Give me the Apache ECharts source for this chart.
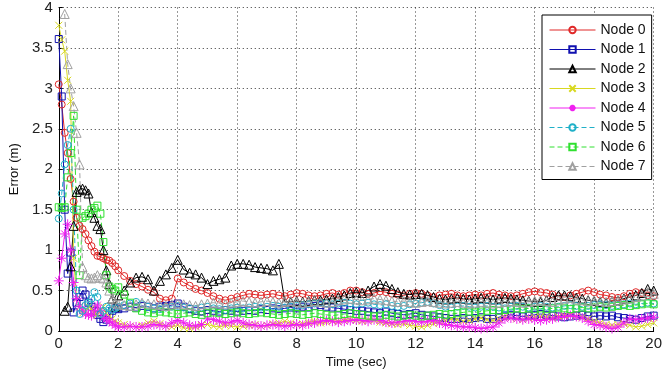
<!DOCTYPE html>
<html>
<head>
<meta charset="utf-8">
<script src="https://cdn.jsdelivr.net/npm/echarts@6/dist/echarts.min.js"></script>
<style>
  html, body { margin: 0; padding: 0; background: #fff; }
  #chart { width: 665px; height: 378px; }
</style>
</head>
<body>
<div id="chart"></div>
<script>
// Sampling grid: 0.1 s steps for the first two seconds, then 0.2 s steps to 20 s
const timeSec = [];
for (let i = 0; i <= 20; i++) timeSec.push(+(i * 0.1).toFixed(1));
for (let i = 1; i <= 90; i++) timeSec.push(+(2 + i * 0.2).toFixed(1));

const xTicks = [0, 2, 4, 6, 8, 10, 12, 14, 16, 18, 20];
const yTicks = [0, 0.5, 1, 1.5, 2, 2.5, 3, 3.5, 4];
const nodeNames = ['Node 0', 'Node 1', 'Node 2', 'Node 3', 'Node 4', 'Node 5', 'Node 6', 'Node 7'];

// Localisation error per node (m)
const node0 = [
  3.05, 2.8, 2.45, 2.2, 1.88, 1.6, 1.4, 1.3, 1.26, 1.2, 1.12, 1.05, 0.98, 0.93, 0.92, 0.9, 0.88, 0.87, 0.84, 0.8, 0.75,
  0.68, 0.62, 0.58, 0.55, 0.51, 0.48, 0.40, 0.38, 0.40, 0.65,
  0.60, 0.56, 0.52, 0.50, 0.47, 0.43, 0.40, 0.38, 0.40, 0.42,
  0.44, 0.46, 0.45, 0.44, 0.45, 0.46, 0.44, 0.43, 0.45, 0.47,
  0.46, 0.44, 0.43, 0.44, 0.46, 0.47, 0.45, 0.47, 0.50, 0.50,
  0.48, 0.46, 0.47, 0.49, 0.48, 0.46, 0.45, 0.44, 0.46, 0.47,
  0.46, 0.44, 0.42, 0.44, 0.45, 0.46, 0.44, 0.43, 0.44, 0.45,
  0.44, 0.46, 0.47, 0.45, 0.44, 0.43, 0.44, 0.46, 0.48, 0.49,
  0.48, 0.47, 0.45, 0.43, 0.42, 0.44, 0.46, 0.48, 0.50, 0.48,
  0.45, 0.44, 0.42, 0.41, 0.43, 0.46, 0.48, 0.47, 0.44, 0.43
];
const node1 = [
  3.61, 2.9, 1.5, 0.71, 0.97, 0.23, 0.35, 0.42, 0.5, 0.45, 0.35, 0.3, 0.25, 0.2, 0.15, 0.11, 0.14, 0.2, 0.25, 0.28, 0.27,
  0.28, 0.30, 0.29, 0.31, 0.30, 0.28, 0.30, 0.31, 0.32, 0.34,
  0.30, 0.27, 0.25, 0.24, 0.26, 0.25, 0.24, 0.26, 0.25, 0.24,
  0.25, 0.26, 0.25, 0.27, 0.26, 0.28, 0.27, 0.28, 0.29, 0.28,
  0.30, 0.29, 0.31, 0.32, 0.30, 0.29, 0.28, 0.27, 0.26, 0.25,
  0.25, 0.24, 0.23, 0.22, 0.24, 0.22, 0.21, 0.20, 0.21, 0.22,
  0.20, 0.19, 0.18, 0.17, 0.16, 0.15, 0.15, 0.16, 0.15, 0.16,
  0.17, 0.15, 0.15, 0.17, 0.19, 0.20, 0.19, 0.18, 0.19, 0.20,
  0.21, 0.20, 0.19, 0.18, 0.17, 0.18, 0.19, 0.20, 0.19, 0.18,
  0.19, 0.18, 0.19, 0.17, 0.16, 0.15, 0.14, 0.16, 0.18, 0.19
];
const node2 = [
  null, null, 0.25, 0.3, 0.8, 1.3, 1.72, 1.75, 1.76, 1.74, 1.7, 1.47, 1.4, 1.3, 1.26, 1.0, 0.75, 0.58, 0.4, 0.3, 0.44,
  0.50, 0.60, 0.66, 0.67, 0.64, 0.50, 0.62, 0.70, 0.78, 0.88,
  0.76, 0.72, 0.70, 0.66, 0.58, 0.62, 0.64, 0.66, 0.81, 0.83,
  0.83, 0.82, 0.79, 0.78, 0.77, 0.75, 0.83, 0.36, 0.36, 0.37,
  0.36, 0.37, 0.38, 0.38, 0.39, 0.40, 0.42, 0.44, 0.47, 0.48,
  0.47, 0.50, 0.55, 0.58, 0.56, 0.52, 0.48, 0.46, 0.45, 0.46,
  0.46, 0.44, 0.42, 0.40, 0.39, 0.40, 0.41, 0.40, 0.39, 0.40,
  0.41, 0.40, 0.39, 0.40, 0.41, 0.40, 0.39, 0.38, 0.37, 0.36,
  0.36, 0.38, 0.42, 0.44, 0.44, 0.43, 0.41, 0.40, 0.38, 0.37,
  0.36, 0.35, 0.37, 0.38, 0.40, 0.42, 0.44, 0.47, 0.52, 0.50
];
const node3 = [
  3.78, 3.6, 3.46, 3.1, 2.84, 0.9, 0.4, 0.3, 0.22, 0.25, 0.3, 0.28, 0.22, 0.2, 0.25, 0.3, 0.22, 0.18, 0.15, 0.12, 0.1,
  0.08, 0.06, 0.05, 0.07, 0.10, 0.12, 0.09, 0.06, 0.05, 0.07,
  0.04, 0.03, 0.05, 0.07, 0.08, 0.06, 0.05, 0.07, 0.06, 0.05,
  0.06, 0.07, 0.08, 0.06, 0.07, 0.09, 0.10, 0.12, 0.10, 0.08,
  0.09, 0.11, 0.12, 0.10, 0.11, 0.13, 0.12, 0.14, 0.15, 0.13,
  0.12, 0.14, 0.13, 0.11, 0.10, 0.09, 0.08, 0.09, 0.07, 0.06,
  0.05, 0.07, 0.09, 0.11, 0.13, 0.15, 0.14, 0.12, 0.13, 0.15,
  0.16, 0.14, 0.13, 0.15, 0.17, 0.16, 0.15, 0.14, 0.16, 0.17,
  0.18, 0.17, 0.16, 0.18, 0.19, 0.20, 0.18, 0.17, 0.15, 0.12,
  0.10, 0.08, 0.07, 0.08, 0.09, 0.07, 0.05, 0.06, 0.08, 0.10
];
const node4 = [
  0.62, 0.9, 1.2, 1.32, 1.0, 0.6, 0.4, 0.3, 0.25, 0.21, 0.2, 0.19, 0.25, 0.32, 0.25, 0.17, 0.15, 0.12, 0.1, 0.07, 0.05,
  0.05, 0.06, 0.05, 0.05, 0.06, 0.08, 0.07, 0.06, 0.10, 0.13,
  0.10, 0.07, 0.06, 0.08, 0.15, 0.14, 0.12, 0.10, 0.11, 0.13,
  0.10, 0.08, 0.07, 0.06, 0.07, 0.08, 0.07, 0.06, 0.07, 0.08,
  0.07, 0.09, 0.10, 0.12, 0.13, 0.12, 0.11, 0.12, 0.13, 0.14,
  0.13, 0.12, 0.14, 0.13, 0.11, 0.10, 0.11, 0.12, 0.13, 0.12,
  0.11, 0.12, 0.13, 0.10, 0.08, 0.07, 0.06, 0.05, 0.05, 0.04,
  0.03, 0.04, 0.05, 0.10, 0.15, 0.16, 0.15, 0.14, 0.15, 0.14,
  0.13, 0.14, 0.15, 0.17, 0.18, 0.19, 0.18, 0.16, 0.12, 0.08,
  0.07, 0.05, 0.03, 0.05, 0.10, 0.15, 0.14, 0.15, 0.16, 0.17
];
const node5 = [
  1.39, 1.7, 2.06, 2.3, 2.5, 1.5, 0.5, 0.21, 0.25, 0.32, 0.35, 0.4, 0.48, 0.42, 0.21, 0.25, 0.3, 0.28, 0.26, 0.28, 0.3,
  0.32, 0.34, 0.36, 0.33, 0.30, 0.28, 0.27, 0.29, 0.30, 0.31,
  0.29, 0.28, 0.27, 0.29, 0.30, 0.28, 0.27, 0.26, 0.28, 0.29,
  0.28, 0.29, 0.30, 0.29, 0.30, 0.31, 0.30, 0.29, 0.30, 0.31,
  0.32, 0.33, 0.34, 0.35, 0.34, 0.33, 0.34, 0.35, 0.34, 0.33,
  0.34, 0.35, 0.33, 0.32, 0.33, 0.31, 0.30, 0.31, 0.33, 0.34,
  0.35, 0.36, 0.34, 0.32, 0.30, 0.29, 0.30, 0.31, 0.30, 0.29,
  0.30, 0.31, 0.30, 0.29, 0.28, 0.30, 0.31, 0.30, 0.29, 0.30,
  0.31, 0.30, 0.29, 0.30, 0.31, 0.32, 0.31, 0.30, 0.31, 0.32,
  0.33, 0.32, 0.31, 0.32, 0.33, 0.34, 0.33, 0.34, 0.35, 0.34
];
const node6 = [
  1.53, 1.52, 1.53, 1.9, 2.2, 2.66, 1.5, 0.69, 1.4, 1.42, 1.45, 1.5, 1.52, 1.55, 1.45, 1.1, 0.69, 0.55, 0.52, 0.5, 0.54,
  0.45, 0.35, 0.28, 0.25, 0.23, 0.22, 0.24, 0.23, 0.22, 0.21,
  0.22, 0.23, 0.21, 0.20, 0.22, 0.23, 0.22, 0.21, 0.22, 0.23,
  0.22, 0.21, 0.22, 0.23, 0.22, 0.21, 0.20, 0.21, 0.22, 0.21,
  0.20, 0.21, 0.22, 0.21, 0.20, 0.19, 0.20, 0.21, 0.22, 0.21,
  0.20, 0.19, 0.18, 0.19, 0.20, 0.19, 0.18, 0.19, 0.20, 0.19,
  0.18, 0.19, 0.20, 0.21, 0.20, 0.21, 0.22, 0.23, 0.24, 0.23,
  0.24, 0.25, 0.26, 0.25, 0.26, 0.27, 0.28, 0.27, 0.28, 0.27,
  0.28, 0.27, 0.28, 0.29, 0.28, 0.27, 0.28, 0.29, 0.28, 0.29,
  0.30, 0.29, 0.30, 0.31, 0.32, 0.31, 0.32, 0.33, 0.34, 0.33
];
const node7 = [
  null, null, 3.92, 3.3, 3.0, 2.78, 2.45, 2.06, 0.79, 0.69, 0.66, 0.65, 0.66, 0.69, 0.66, 0.65, 0.6, 0.5, 0.4, 0.35, 0.33,
  0.32, 0.31, 0.33, 0.35, 0.34, 0.33, 0.32, 0.31, 0.33, 0.34,
  0.33, 0.32, 0.31, 0.33, 0.34, 0.35, 0.34, 0.33, 0.35, 0.36,
  0.37, 0.36, 0.35, 0.36, 0.37, 0.36, 0.35, 0.36, 0.37, 0.36,
  0.35, 0.36, 0.37, 0.36, 0.35, 0.36, 0.38, 0.39, 0.40, 0.39,
  0.38, 0.39, 0.40, 0.39, 0.38, 0.37, 0.36, 0.37, 0.36, 0.35,
  0.36, 0.37, 0.36, 0.35, 0.34, 0.35, 0.36, 0.35, 0.34, 0.35,
  0.36, 0.35, 0.34, 0.35, 0.36, 0.37, 0.36, 0.35, 0.36, 0.37,
  0.38, 0.37, 0.36, 0.38, 0.40, 0.41, 0.39, 0.38, 0.37, 0.38,
  0.37, 0.36, 0.37, 0.38, 0.39, 0.40, 0.42, 0.44, 0.48, 0.46
];

const nodeValues = [node0, node1, node2, node3, node4, node5, node6, node7];

// Line colour, marker and dash style for each node
const styles = [
  { color: '#e02828', symbol: 'circle', size: 7, type: 'solid' },
  { color: '#1010b0', symbol: 'rect', size: 7, type: 'solid' },
  { color: '#000000', symbol: 'triangle', size: 9, type: 'solid' },
  { color: '#d8d820', symbol: 'path://M0,0L10,10M10,0L0,10', size: 7, type: 'solid' },
  { color: '#f020f0', symbol: 'path://M5,0L5,10M0,5L10,5M1.5,1.5L8.5,8.5M8.5,1.5L1.5,8.5', size: 10, type: 'solid' },
  { color: '#20b0c8', symbol: 'circle', size: 7, type: [5, 3] },
  { color: '#30e030', symbol: 'rect', size: 7, type: [5, 3] },
  { color: '#a0a0a0', symbol: 'triangle', size: 9, type: [5, 3] }
];

const series = nodeNames.map((name, k) => ({
  name: name,
  type: 'line',
  data: timeSec.map((t, i) => [t, nodeValues[k][i]]),
  symbol: styles[k].symbol,
  symbolSize: styles[k].size,
  showAllSymbol: true,
  connectNulls: false,
  clip: true,
  color: styles[k].color,
  lineStyle: { color: styles[k].color, width: 1, type: styles[k].type },
  itemStyle: { color: 'rgba(0,0,0,0)', borderColor: styles[k].color, borderWidth: 1 },
  emphasis: { disabled: true }
}));

const chart = echarts.init(document.getElementById('chart'), null, { renderer: 'canvas' });
chart.setOption({
  animation: false,
  backgroundColor: '#ffffff',
  textStyle: { fontFamily: 'Liberation Sans, Arial, sans-serif' },
  grid: { left: 58, right: 3, top: 6, bottom: 47, containLabel: false },
  xAxis: {
    type: 'value',
    min: xTicks[0],
    max: xTicks[xTicks.length - 1],
    interval: xTicks[1] - xTicks[0],
    name: 'Time (sec)',
    nameLocation: 'middle',
    nameGap: 22,
    nameTextStyle: { fontSize: 13, color: '#111' },
    axisLine: { show: true, lineStyle: { color: '#000', width: 1 } },
    axisTick: { show: true, inside: true, length: 4, lineStyle: { color: '#000' } },
    axisLabel: { fontSize: 15, color: '#222', margin: 5 },
    splitLine: { show: true, lineStyle: { color: '#333', type: [1, 3], width: 1 } }
  },
  yAxis: {
    type: 'value',
    min: yTicks[0],
    max: yTicks[yTicks.length - 1],
    interval: yTicks[1] - yTicks[0],
    name: 'Error (m)',
    nameLocation: 'middle',
    nameGap: 33,
    nameTextStyle: { fontSize: 13, color: '#111' },
    axisLine: { show: true, lineStyle: { color: '#000', width: 1 } },
    axisTick: { show: true, inside: true, length: 4, lineStyle: { color: '#000' } },
    axisLabel: { fontSize: 15, color: '#222', margin: 6 },
    splitLine: { show: true, lineStyle: { color: '#333', type: [1, 3], width: 1 } }
  },
  legend: {
    orient: 'vertical',
    left: 542,
    top: 15,
    width: 115,
    padding: [8, 6, 6, 7],
    backgroundColor: '#ffffff',
    borderColor: '#000',
    borderWidth: 1,
    borderRadius: 0,
    itemWidth: 46,
    itemHeight: 8,
    itemGap: 5.5,
    lineStyle: { width: 1 },
    textStyle: { fontSize: 14, color: '#111', padding: [0, 0, 0, 0] },
    data: nodeNames
  },
  series: series
});
</script>
</body>
</html>
